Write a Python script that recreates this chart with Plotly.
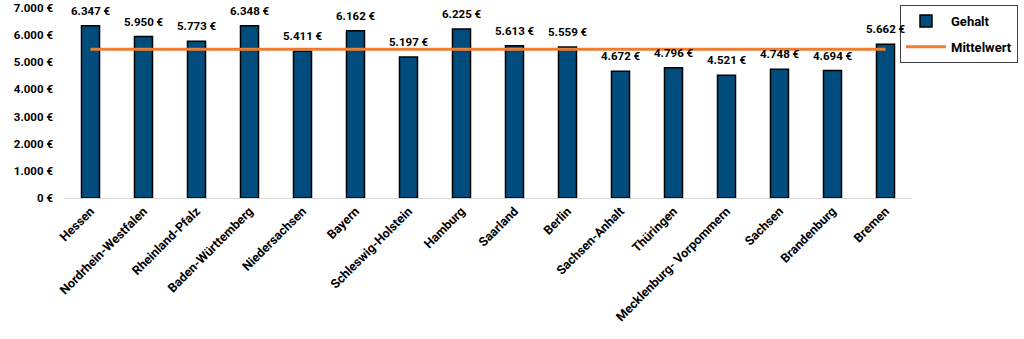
import plotly.graph_objects as go

laender = ["Hessen", "Nordrhein-Westfalen", "Rheinland-Pfalz", "Baden-Württemberg",
           "Niedersachsen", "Bayern", "Schleswig-Holstein", "Hamburg", "Saarland",
           "Berlin", "Sachsen-Anhalt", "Thüringen", "Mecklenburg- Vorpommern",
           "Sachsen", "Brandenburg", "Bremen"]
gehalt = [6347, 5950, 5773, 6348, 5411, 6162, 5197, 6225, 5613, 5559,
          4672, 4796, 4521, 4748, 4694, 5662]
mittelwert = [5480, 5480, 5480, 5480, 5480, 5480, 5480, 5480, 5480, 5480,
              5480, 5480, 5480, 5480, 5480, 5480]
y_ticks = [0, 1000, 2000, 3000, 4000, 5000, 6000, 7000]


def eur(v):
    return f"{v:,}".replace(",", ".") + " €"


FONT = "Roboto"

fig = go.Figure()
fig.add_trace(go.Bar(
    x=laender, y=gehalt, name="Gehalt", legendgroup="a",
    marker=dict(color="#004C7C", line=dict(color="#000000", width=1.5)),
    width=0.34,
    cliponaxis=False,
))
fig.add_trace(go.Scatter(
    x=laender, y=mittelwert, name="Mittelwert", mode="lines", legendgroup="b",
    line=dict(color="#ED7D31", width=3),
))

for land, v in zip(laender, gehalt):
    fig.add_annotation(
        x=land, y=v, text=eur(v), showarrow=False,
        yanchor="bottom", yshift=6,
        font=dict(family=FONT, size=11.5, color="#000000", weight="bold"),
    )

fig.update_layout(
    width=1024, height=339,
    margin=dict(l=64, r=112, t=8, b=141, autoexpand=False),
    paper_bgcolor="white", plot_bgcolor="white",
    font=dict(family=FONT, size=11, color="#000000"),
    showlegend=True,
    legend=dict(
        xref="container", yref="container",
        x=900 / 1024, y=1 - 5 / 339, xanchor="left", yanchor="top",
        bordercolor="#404040", borderwidth=1,
        font=dict(family=FONT, size=13, color="#000000", weight="bold"),
        tracegroupgap=6, itemwidth=40,
    ),
)
fig.update_xaxes(
    tickangle=-45, showgrid=False, showline=True, linecolor="#D9D9D9",
    linewidth=1, ticks="", automargin=False,
    tickfont=dict(family=FONT, size=12.5, color="#000000", weight="bold"),
)
fig.update_yaxes(
    range=[0, 7000], tickvals=y_ticks, ticktext=[eur(v) for v in y_ticks],
    showgrid=False, zeroline=False, showline=False, ticks="", automargin=False,
    tickfont=dict(family=FONT, size=11.5, color="#000000", weight="bold"),
    ticklabelstandoff=10,
)

fig.write_html("out.html")
